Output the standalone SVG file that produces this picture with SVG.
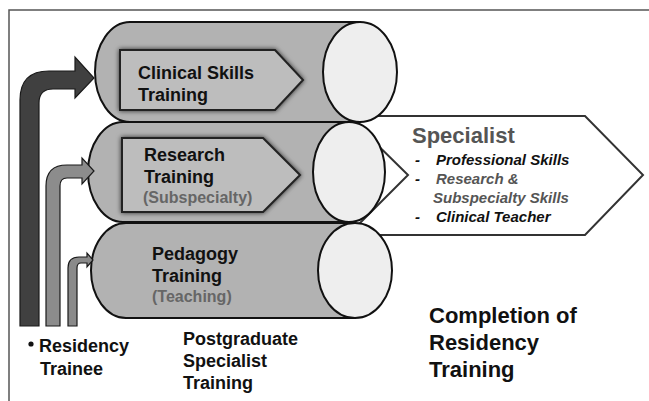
<svg xmlns="http://www.w3.org/2000/svg" width="649" height="401" viewBox="0 0 649 401">
  <style>
    .t { font-family: "Liberation Sans", Arial, sans-serif; font-weight: bold; fill: #111; }
    .t18 { font-size: 18px; }
    .t16 { font-size: 16px; fill: #666; }
    .t22 { font-size: 22px; }
    .it { font-size: 15px; font-style: italic; }
    .body { fill: #b2b2b2; stroke: #111; stroke-width: 2; }
    .cap { fill: #eeeeee; stroke: #111; stroke-width: 2; }
    .tag { fill: #bdbdbd; stroke: #222; stroke-width: 2; filter: url(#glow); }
    .arrow { stroke: #1a1a1a; stroke-width: 1.2; }
  </style>
  <defs>
    <filter id="glow" x="-10%" y="-20%" width="120%" height="140%">
      <feGaussianBlur in="SourceAlpha" stdDeviation="2.5" result="b"/>
      <feFlood flood-color="#000" flood-opacity="0.75"/>
      <feComposite in2="b" operator="in" result="s"/>
      <feMerge><feMergeNode in="s"/><feMergeNode in="SourceGraphic"/></feMerge>
    </filter>
  </defs>

  <rect width="649" height="401" fill="#fff"/>
  <!-- frame -->
  <path d="M9,401 L9,10 L649,10" fill="none" stroke="#555" stroke-width="1.5"/>

  <!-- outcome arrow -->
  <g id="specialist">
    <polygon points="348,116 585,116 643,175 585,235 348,235 408,175" fill="#fff" stroke="#333" stroke-width="2"/>
    <text class="t t22" x="412" y="143" style="fill:#555">Specialist</text>
    <text class="t it" x="415" y="165">-</text>
    <text class="t it" x="436" y="165">Professional Skills</text>
    <text class="t it" x="415" y="184">-</text>
    <text class="t it" x="436" y="184" style="fill:#555">Research &amp;</text>
    <text class="t it" x="433" y="203" style="fill:#555">Subspecialty Skills</text>
    <text class="t it" x="415" y="222">-</text>
    <text class="t it" x="436" y="222">Clinical Teacher</text>
  </g>

  <!-- training cylinders -->
  <g id="pedagogy">
    <path class="body" d="M126,223 L355,223 L355,318 L126,318 A35,47.5 0 0 1 126,223 Z"/>
    <ellipse class="cap" cx="355" cy="270.5" rx="37" ry="47.5"/>
    <text class="t t18" x="152" y="260">Pedagogy</text>
    <text class="t t18" x="152" y="282">Training</text>
    <text class="t t16" x="152" y="302">(Teaching)</text>
  </g>

  <g id="research">
    <path class="body" d="M123,122 L349,122 L349,222 L123,222 A35,50 0 0 1 123,122 Z"/>
    <ellipse class="cap" cx="349" cy="172" rx="36" ry="50"/>
    <polygon class="tag" points="122,138 263,138 300,175 263,212 122,212"/>
    <text class="t t18" x="144" y="161">Research</text>
    <text class="t t18" x="144" y="183">Training</text>
    <text class="t t16" x="143" y="203">(Subspecialty)</text>
  </g>

  <g id="clinical">
    <path class="body" d="M130,22 L360,22 L360,122 L130,122 A35,50 0 0 1 130,22 Z"/>
    <ellipse class="cap" cx="360" cy="72" rx="37" ry="50"/>
    <polygon class="tag" points="120,50 275,50 303,80 275,110 120,110"/>
    <text class="t t18" x="138" y="79">Clinical Skills</text>
    <text class="t t18" x="138" y="101">Training</text>
  </g>

  <!-- entry paths from the trainee -->
  <g id="connectors">
    <path class="arrow" fill="#404040" d="M20,326 L20,100 Q20,71 49,71 L75,71 L75,57 L94,78 L75,98 L75,89 L53,89 Q39,89 39,103 L39,326 Z"/>
    <path class="arrow" fill="#8c8c8c" d="M46,326 L46,186 Q46,165 67,165 L82,165 L82,158 L94,171 L82,184 L82,178 L67,178 Q60,178 60,186 L60,326 Z"/>
    <path class="arrow" fill="#8a8a8a" d="M68,326 L68,268 Q68,257 79,257 L87,257 L87,253 L93,260 L87,267 L87,263 L81,263 Q77,263 77,268 L77,326 Z"/>
  </g>

  <g id="trainee">
    <circle cx="31" cy="344" r="2.6" fill="#111"/>
    <text class="t t18" x="39" y="352">Residency</text>
    <text class="t t18" x="40" y="375">Trainee</text>
  </g>

  <g id="postgraduate">
    <text class="t t18" x="183" y="345">Postgraduate</text>
    <text class="t t18" x="183" y="367">Specialist</text>
    <text class="t t18" x="183" y="389">Training</text>
  </g>

  <g id="completion">
    <text class="t t22" x="429" y="323">Completion of</text>
    <text class="t t22" x="429" y="350">Residency</text>
    <text class="t t22" x="429" y="377">Training</text>
  </g>
</svg>
